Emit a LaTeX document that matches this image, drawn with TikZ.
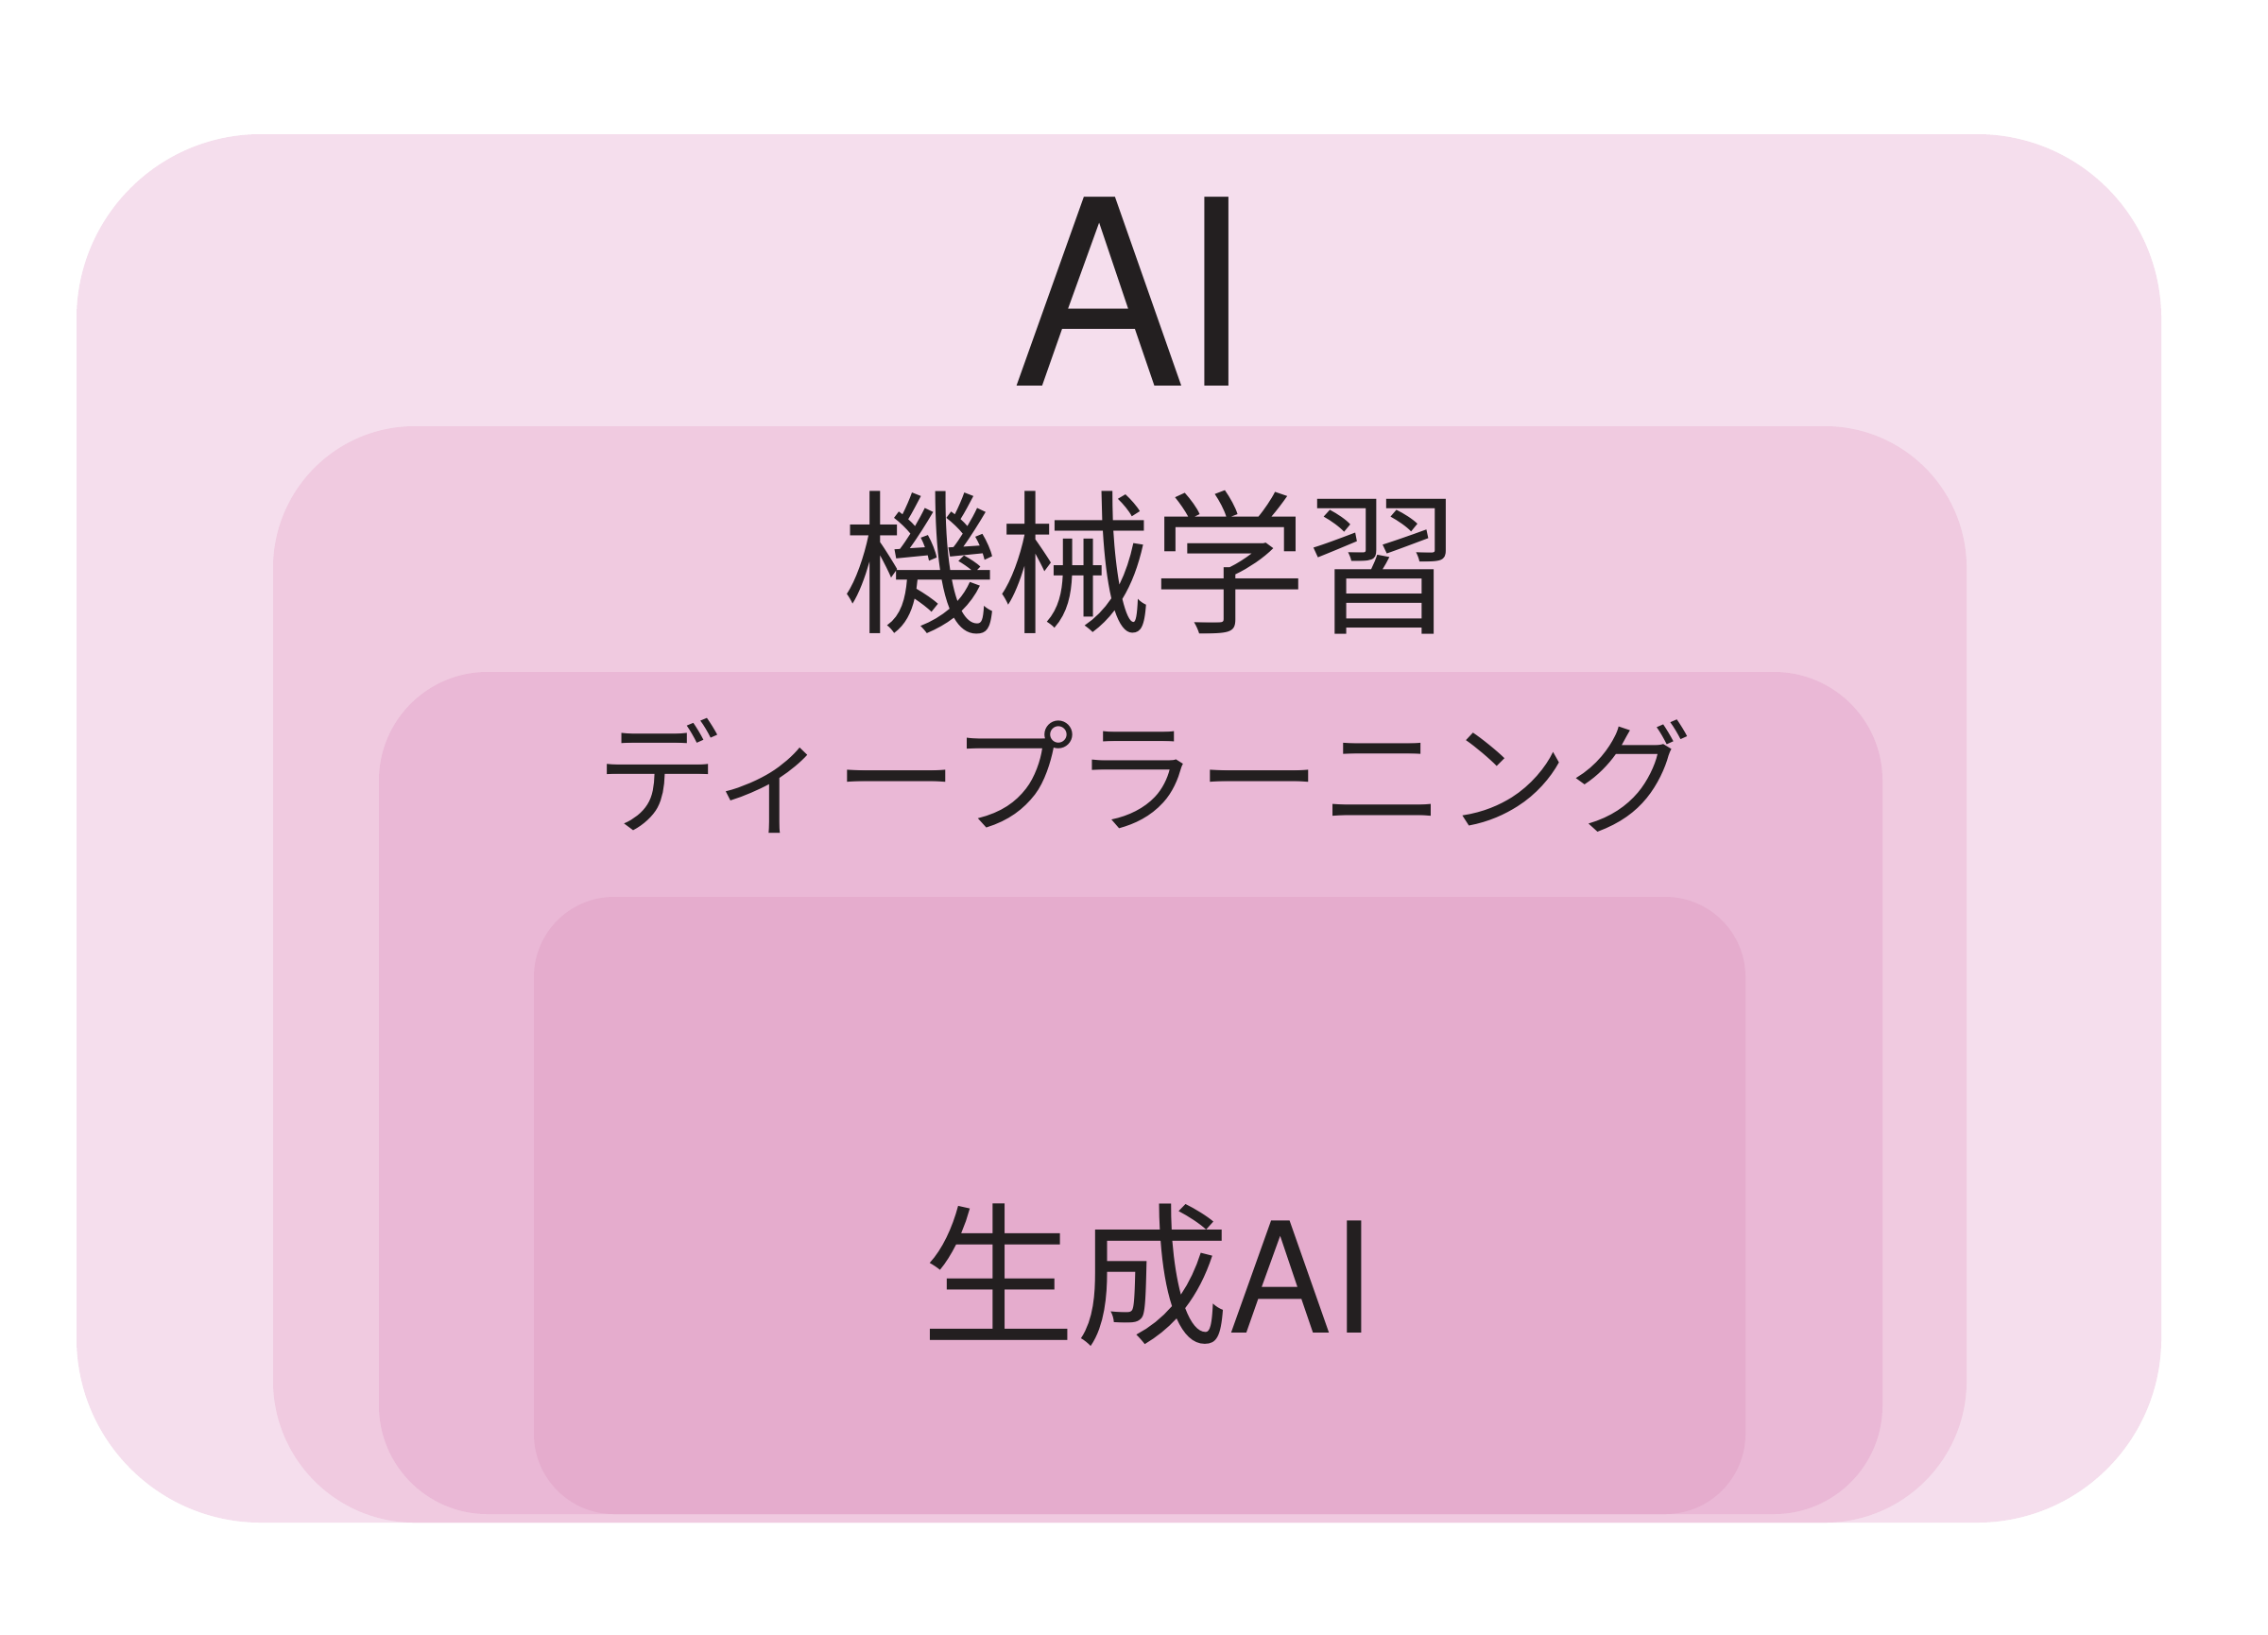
\documentclass[tikz,border=0pt]{standalone}
\usepackage{fontspec}
\setmainfont{Noto Sans CJK JP}
\newfontfamily\latinfont{TeX Gyre Heros}
\definecolor{cA}{HTML}{F5DEED}
\definecolor{cB}{HTML}{F0CAE0}
\definecolor{cC}{HTML}{EAB8D6}
\definecolor{cD}{HTML}{E5ACCD}
\definecolor{ink}{HTML}{231F20}
\tikzset{
  lbl/.style={text=ink, inner sep=0pt, outer sep=0pt}
}
\begin{document}
\begin{tikzpicture}
\useasboundingbox[fill=white] (0,0) rectangle (24,-17.29);
\fill[cA, rounded corners=1.95cm] (0.81,-1.42) rectangle (22.87,-16.11);
\fill[cB, rounded corners=1.5cm] (2.89,-4.51) rectangle (20.81,-16.11);
\fill[cC, rounded corners=1.15cm] (4.01,-7.11) rectangle (19.92,-16.02);
\fill[cD, rounded corners=0.85cm] (5.65,-9.49) rectangle (18.47,-16.02);
\node[lbl, anchor=base, font=\fontsize{78pt}{80pt}\selectfont\latinfont] (ai) at (11.97,-4.08) {A\kern-2pt I};
\node[lbl, anchor=center, font=\fontsize{46.6pt}{48pt}\selectfont] (ml) at (12.19,-5.95) {機械学習};
\node[lbl, anchor=center, font=\fontsize{37.2pt}{40pt}\selectfont] (dl) at (12.11,-8.21) {ディープラーニング};
\node[lbl, anchor=center, font=\fontsize{46.3pt}{48pt}\selectfont] (gen) at (12.15,-13.49) {生成{\latinfont AI}};
\end{tikzpicture}
\end{document}
